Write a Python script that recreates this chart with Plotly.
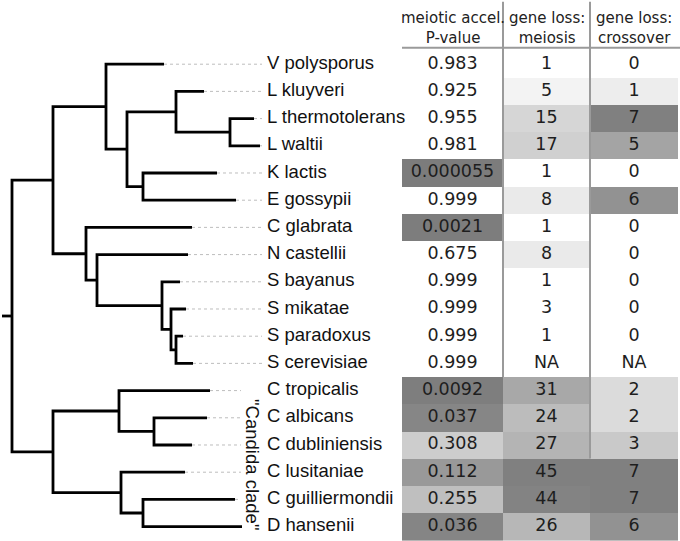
import plotly.graph_objects as go

# ---------------- data ----------------
species = ["V polysporus", "L kluyveri", "L thermotolerans", "L waltii", "K lactis",
           "E gossypii", "C glabrata", "N castellii", "S bayanus", "S mikatae",
           "S paradoxus", "S cerevisiae", "C tropicalis", "C albicans", "C dubliniensis",
           "C lusitaniae", "C guilliermondii", "D hansenii"]
# tip depth of each terminal branch (relative tree units)
tip_depth = [164, 204, 254, 260, 217, 236, 192, 188, 180, 186, 183, 193,
             210, 207, 192, 185, 235, 242]
p_value = [0.983, 0.925, 0.955, 0.981, 0.000055, 0.999, 0.0021, 0.675, 0.999, 0.999,
           0.999, 0.999, 0.0092, 0.037, 0.308, 0.112, 0.255, 0.036]
loss_meiosis = [1, 5, 15, 17, 1, 8, 1, 8, 1, 3, 1, None, 31, 24, 27, 45, 44, 26]
loss_crossover = [0, 1, 7, 5, 0, 6, 0, 0, 0, 0, 0, None, 2, 2, 3, 7, 7, 6]
candida_clade = ["C tropicalis", "C albicans", "C dubliniensis",
                 "C lusitaniae", "C guilliermondii", "D hansenii"]
column_headers = ["meiotic accel.<br>P-value", "gene loss:<br>meiosis", "gene loss:<br>crossover"]

# internal nodes: (name, [children], depth)
clades = [
    ("n_Lth_Lwa", ["L thermotolerans", "L waltii"], 230),
    ("n_Lkl", ["L kluyveri", "n_Lth_Lwa"], 176),
    ("n_Kla_Ego", ["K lactis", "E gossypii"], 143),
    ("n_Lach_Kla", ["n_Lkl", "n_Kla_Ego"], 127),
    ("n_Vpo", ["V polysporus", "n_Lach_Kla"], 106),
    ("n_Spa_Sce", ["S paradoxus", "S cerevisiae"], 176),
    ("n_Smi", ["S mikatae", "n_Spa_Sce"], 171),
    ("n_Sba", ["S bayanus", "n_Smi"], 162),
    ("n_Nca", ["N castellii", "n_Sba"], 97),
    ("n_Cgl", ["C glabrata", "n_Nca"], 86),
    ("n_Sacch", ["n_Vpo", "n_Cgl"], 53),
    ("n_Cal_Cdu", ["C albicans", "C dubliniensis"], 154),
    ("n_Ctr", ["C tropicalis", "n_Cal_Cdu"], 119),
    ("n_Cgu_Dha", ["C guilliermondii", "D hansenii"], 143),
    ("n_Clu", ["C lusitaniae", "n_Cgu_Dha"], 121),
    ("n_Candida", ["n_Ctr", "n_Clu"], 53),
    ("root", ["n_Sacch", "n_Candida"], 12),
]

# ---------------- layout constants ----------------
W, H = 680, 541
ROOT_STUB = 10
LEADER_END = 262
LEADER_END_CANDIDA = 241
LABEL_X = 267
COL_EDGES = [402, 503, 590, 678]
Y_RANGE = [17.53, -2.36]

# ---------------- tree geometry ----------------
xpos = {s: d for s, d in zip(species, tip_depth)}
ypos = {s: i for i, s in enumerate(species)}
for name, kids, d in clades:
    xpos[name] = d
    ypos[name] = sum(ypos[k] for k in kids) / len(kids)

tx, ty = [], []
for name, kids, d in clades:
    a, b = kids
    tx += [xpos[a], d, d, xpos[b], None]
    ty += [ypos[a], ypos[a], ypos[b], ypos[b], None]
tx += [xpos["root"] - ROOT_STUB, xpos["root"], None]
ty += [ypos["root"], ypos["root"], None]

lx, ly = [], []
for s in species:
    end = LEADER_END_CANDIDA if s in candida_clade else LEADER_END
    if xpos[s] < end:
        lx += [xpos[s], end, None]
        ly += [ypos[s], ypos[s], None]

fig = go.Figure()
fig.add_trace(go.Scatter(x=lx, y=ly, mode="lines", hoverinfo="skip",
                         line=dict(color="#bdbdbd", width=1, dash="dot")))
fig.add_trace(go.Scatter(x=tx, y=ty, mode="lines", hoverinfo="skip",
                         line=dict(color="black", width=2.8)))
fig.add_trace(go.Scatter(x=[LABEL_X] * len(species), y=list(range(len(species))),
                         mode="text", text=species, textposition="middle right",
                         hoverinfo="skip",
                         textfont=dict(family="Liberation Sans, Arial", size=18.5, color="#111")))

# ---------------- table ----------------
rows = list(range(len(species)))
cols = [
    (p_value, 0.0, 0.5, [[0, "rgb(124,124,124)"], [1, "rgb(255,255,255)"]],
     [format(v, "f").rstrip("0") for v in p_value]),
    (loss_meiosis, 0, 45, [[0, "rgb(255,255,255)"], [0.07, "rgb(255,255,255)"],
                           [0.11, "rgb(243,243,243)"], [1, "rgb(128,128,128)"]],
     ["NA" if v is None else str(v) for v in loss_meiosis]),
    (loss_crossover, 0, 7, [[0, "rgb(255,255,255)"], [1, "rgb(128,128,128)"]],
     ["NA" if v is None else str(v) for v in loss_crossover]),
]
centers = [(COL_EDGES[i] + COL_EDGES[i + 1]) / 2 for i in range(3)]
for i, (vals, zmin, zmax, cs, labels) in enumerate(cols):
    fig.add_trace(go.Heatmap(x=[COL_EDGES[i], COL_EDGES[i + 1]], y=rows,
                             z=[[v] for v in vals], zmin=zmin, zmax=zmax,
                             colorscale=cs, showscale=False, hoverinfo="skip"))
    fig.add_trace(go.Scatter(x=[centers[i]] * len(rows), y=rows, mode="text",
                             text=labels, textposition="middle center", hoverinfo="skip",
                             textfont=dict(family="DejaVu Sans, Verdana", size=17.5, color="#1e1e1e")))

for i, h in enumerate(column_headers):
    fig.add_annotation(x=centers[i], y=-1.32, xref="x", yref="y", text=h, showarrow=False,
                       xanchor="center", yanchor="middle",
                       font=dict(family="DejaVu Sans, Verdana", size=15, color="#222"))

grid = dict(type="line", xref="x", yref="y", line=dict(color="#9a9a9a", width=2), layer="above")
fig.add_shape(**grid, x0=COL_EDGES[0], x1=W, y0=-0.6, y1=-0.6)
fig.add_shape(**grid, x0=COL_EDGES[1], x1=COL_EDGES[1], y0=-2.3, y1=species.index("C tropicalis") - 0.5)
fig.add_shape(**grid, x0=COL_EDGES[2], x1=COL_EDGES[2], y0=-2.3, y1=species.index("C lusitaniae") - 0.5)

candida_y = sum(ypos[s] for s in candida_clade) / len(candida_clade)
fig.add_annotation(x=253, y=candida_y + 0.2, xref="x", yref="y", text='"Candida clade"',
                   showarrow=False, textangle=90, xanchor="center", yanchor="middle",
                   font=dict(family="Liberation Sans, Arial", size=18.5, color="#111"))

fig.update_layout(
    width=W, height=H, margin=dict(l=0, r=0, t=0, b=0),
    paper_bgcolor="white", plot_bgcolor="white", showlegend=False,
    xaxis=dict(range=[0, W], visible=False, fixedrange=True),
    yaxis=dict(range=Y_RANGE, visible=False, fixedrange=True),
)
fig.write_html("out.html", config={"displayModeBar": False, "staticPlot": True},
               post_script="document.body.style.margin='0px';")
